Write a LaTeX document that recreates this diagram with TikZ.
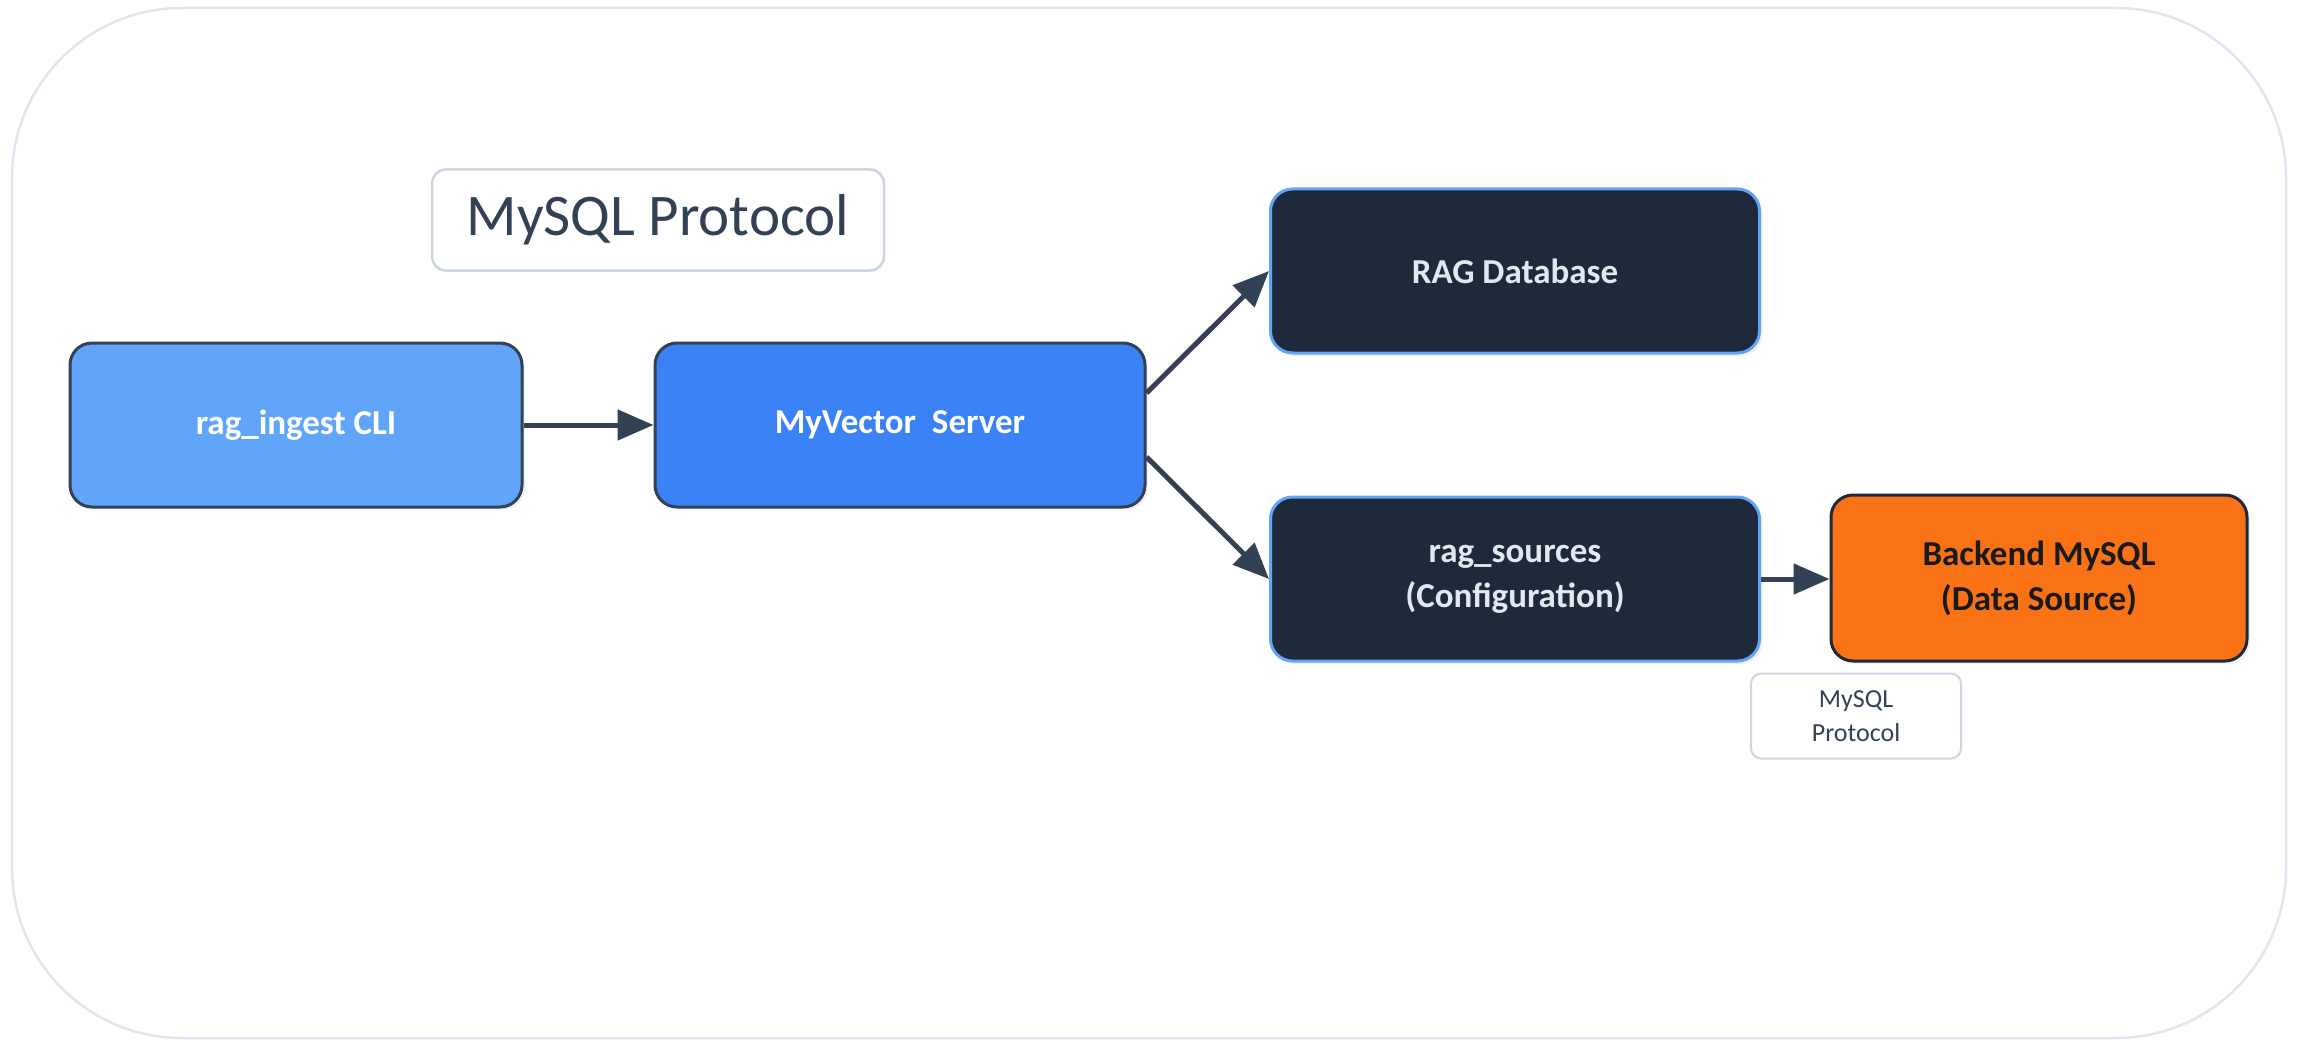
\documentclass[tikz,border=0pt]{standalone}
\usepackage{fontspec}
\setmainfont{Carlito}
\usetikzlibrary{arrows.meta,shadows}
\definecolor{slatedark}{HTML}{1E293B}
\definecolor{slateline}{HTML}{334155}
\definecolor{blueA}{HTML}{60A5FA}
\definecolor{blueB}{HTML}{3B82F6}
\definecolor{orangeA}{HTML}{F97316}
\definecolor{lightline}{HTML}{CBD5E1}
\definecolor{outerline}{HTML}{E2E5F0}
\definecolor{lighttext}{HTML}{E2E8F0}
\tikzset{
  box/.style={rounded corners=22pt, line width=3pt, align=center,
    font=\fontsize{35}{45}\selectfont\bfseries,
    drop shadow={shadow xshift=3pt, shadow yshift=-3pt, opacity=0.12}},
  bluebox/.style={box, fill=blueA, draw=slateline, text=white},
  bluebox2/.style={box, fill=blueB, draw=slateline, text=white},
  darkbox/.style={box, fill=slatedark, draw=blueA, text=lighttext},
  orangebox/.style={box, fill=orangeA, draw=slatedark, text=black!90},
  lbl/.style={draw=lightline, line width=2.5pt, fill=white, rounded corners=14pt, text=slateline, align=center},
  conn/.style={draw=slateline, line width=5pt, -{Triangle[length=36pt,width=30pt]}},
}
\begin{document}
\begin{tikzpicture}[x=1pt,y=-1pt]
\useasboundingbox (0,0) rectangle (2298,1043);
\draw[outerline, line width=2.5pt, rounded corners=170pt] (12,8) rectangle (2286,1038);

\node[lbl, minimum width=452pt, minimum height=101pt, font=\fontsize{59}{66}\selectfont] (proto) at (658,220) {MySQL Protocol};

\node[bluebox, minimum width=452pt, minimum height=164pt] (cli) at (296,425) {rag\_ingest CLI};
\node[bluebox2, minimum width=490pt, minimum height=164pt] (srv) at (900,425) {MyVector\ \ Server};
\node[darkbox, minimum width=489pt, minimum height=164pt] (rdb) at (1515,271) {RAG Database};
\node[darkbox, minimum width=489pt, minimum height=164pt] (src) at (1515,579) {rag\_sources\\(Configuration)};
\node[orangebox, minimum width=416pt, minimum height=166pt] (back) at (2039,578) {Backend MySQL\\(Data Source)};

\node[lbl, minimum width=210pt, minimum height=85pt, font=\fontsize{26}{34}\selectfont, line width=2pt, rounded corners=10pt] (proto2) at (1856,716) {MySQL\\Protocol};

\draw[conn] (cli.east) -- (srv.west);
\draw[conn] ([yshift=32pt]srv.east) -- (rdb.west);
\draw[conn] ([yshift=-32pt]srv.east) -- (src.west);
\draw[conn] (src.east) -- (src.east -| back.west);
\end{tikzpicture}
\end{document}
